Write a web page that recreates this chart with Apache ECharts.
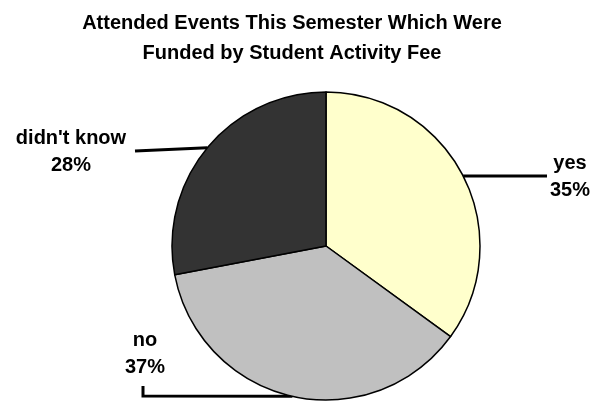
<!DOCTYPE html>
<html><head><meta charset="utf-8">
<script src="https://cdn.jsdelivr.net/npm/echarts@6/dist/echarts.min.js"></script>
<style>html,body{margin:0;padding:0;background:#fff}#c{width:595px;height:402px}</style>
</head><body><div id="c"></div>
<script>
const titleText = 'Attended Events This Semester Which Were\nFunded by Student Activity Fee';
const categories = ['yes', 'no', "didn't know"];
const values = [35, 37, 28];
const colors = ['#FFFFCC', '#C0C0C0', '#333333'];
// label box centres and leader elbow points (layout only)
const labelPos = [[570, 177], [145, 354], [71, 152]];
const leaderEnds = [[[547, null], [547, null]], [[143, 396], [143, 386]], [[135, 151], [135, 151]]];

const chart = echarts.init(document.getElementById('c'), null, {renderer: 'canvas'});
chart.setOption({
  backgroundColor: '#fff',
  animation: false,
  title: {
    text: titleText, left: 287, top: 4, textAlign: 'center',
    textStyle: {fontFamily: 'Liberation Sans', fontWeight: 'bold', fontSize: 20, lineHeight: 29.5, color: '#000'}
  },
  series: [{
    type: 'pie',
    center: [326, 246],
    radius: 154,
    startAngle: 90,
    clockwise: true,
    silent: true,
    data: categories.map((c, i) => ({name: c, value: values[i], itemStyle: {color: colors[i]}})),
    itemStyle: {borderColor: '#000', borderWidth: 1.5},
    label: {
      show: true,
      formatter: p => p.name + '\n' + Math.round(p.percent) + '%',
      fontFamily: 'Liberation Sans', fontWeight: 'bold', fontSize: 20, lineHeight: 27.5,
      color: '#000', align: 'center'
    },
    labelLine: {show: true, length: 10, length2: 10, smooth: false, lineStyle: {color: '#000', width: 3}},
    labelLayout: function (params) {
      const i = params.dataIndex;
      const p0 = params.labelLinePoints ? params.labelLinePoints[0] : null;
      const pts = p0 ? [p0.slice()].concat(leaderEnds[i].map(q => [q[0], q[1] == null ? p0[1] : q[1]])) : undefined;
      return {
        x: labelPos[i][0], y: labelPos[i][1], align: 'center', verticalAlign: 'middle',
        labelLinePoints: pts
      };
    }
  }]
});
</script></body></html>
